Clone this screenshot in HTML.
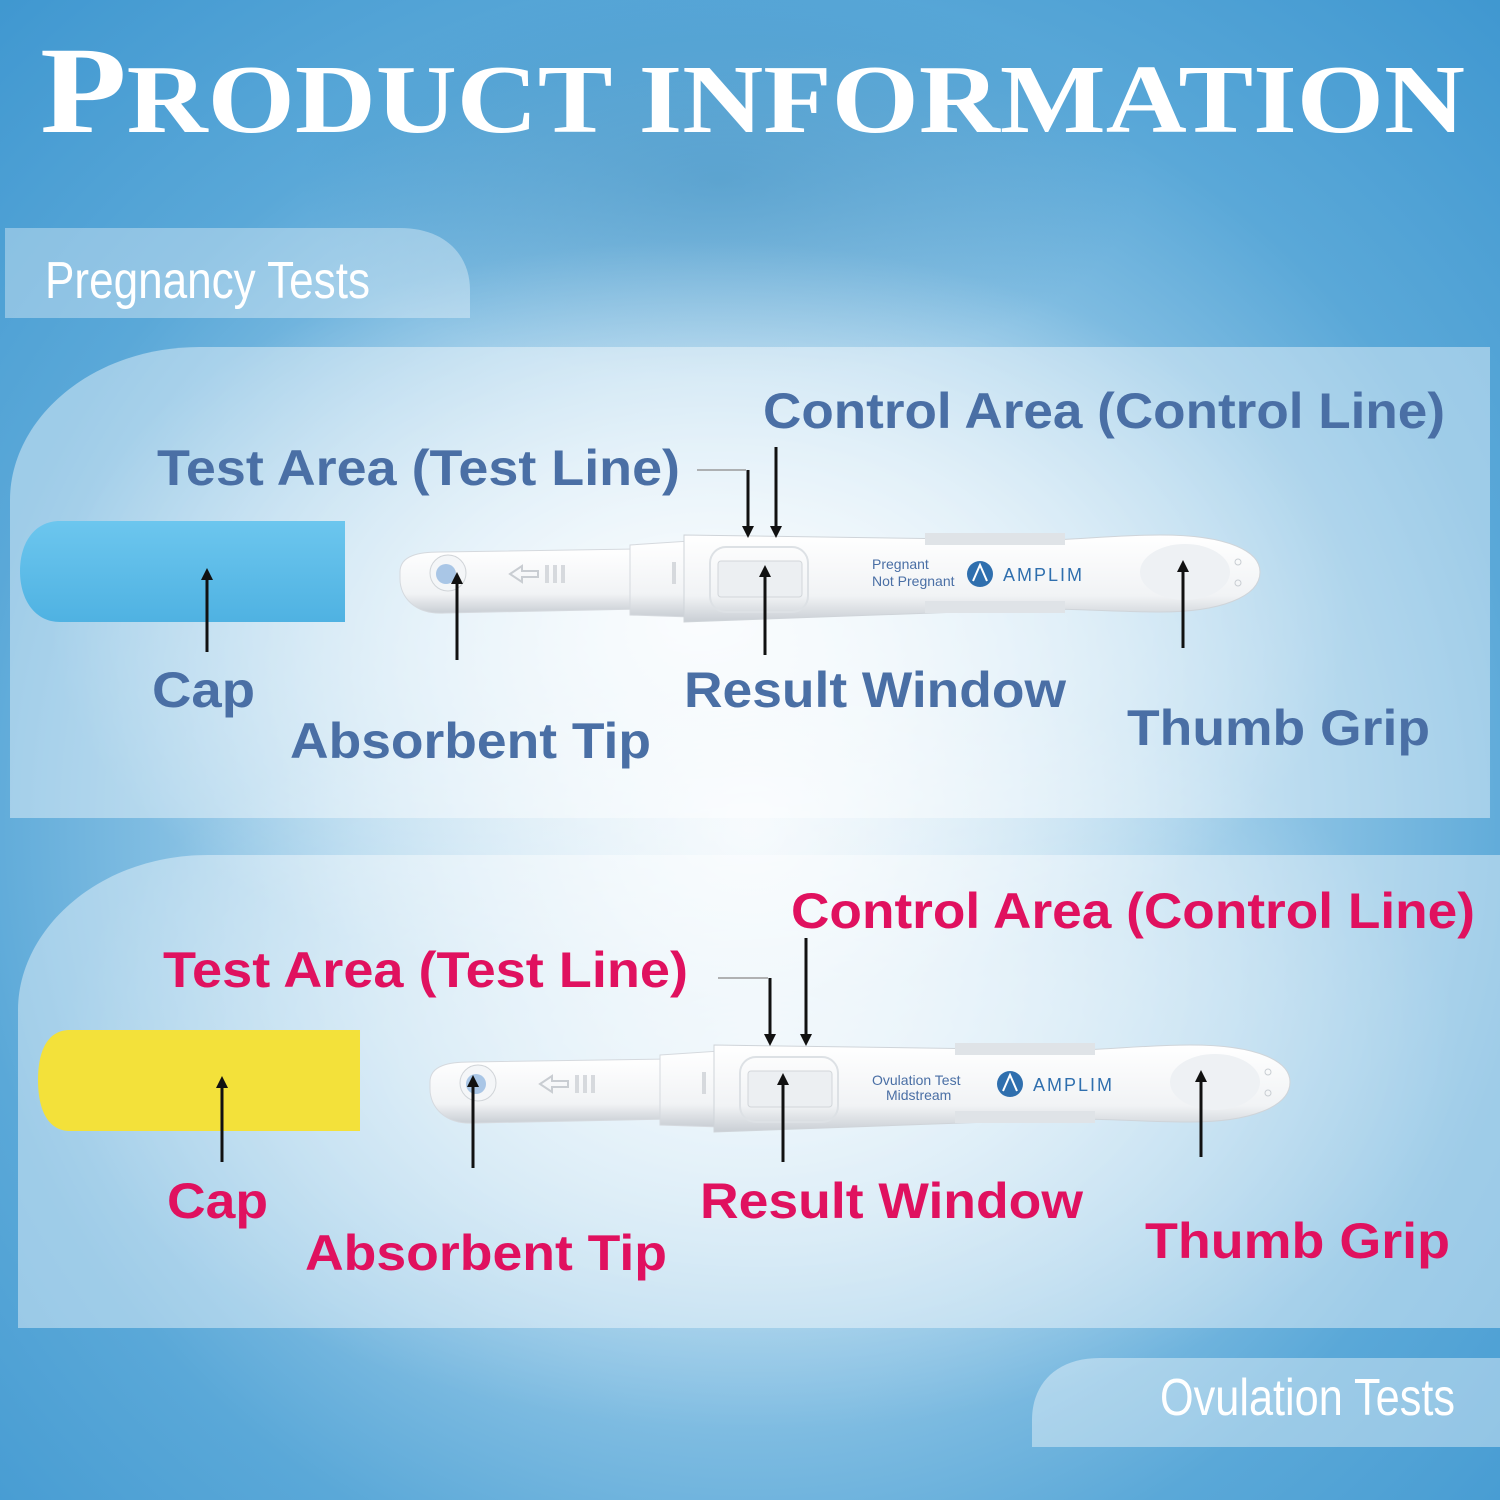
<!DOCTYPE html>
<html><head><meta charset="utf-8"><style>
html,body{margin:0;padding:0;width:1500px;height:1500px;overflow:hidden}
svg{display:block}
.b{font-family:"Liberation Sans",sans-serif;font-weight:bold}
</style></head><body>
<svg width="1500" height="1500" viewBox="0 0 1500 1500" xmlns="http://www.w3.org/2000/svg">
<defs>
<radialGradient id="bg" cx="0.5" cy="0.55" r="0.75">
<stop offset="0" stop-color="#eef6fb"/>
<stop offset="0.35" stop-color="#a9d3ec"/>
<stop offset="0.7" stop-color="#5aa8d8"/>
<stop offset="1" stop-color="#3f97d0"/>
</radialGradient>
<radialGradient id="glow" cx="0.5" cy="0.5" r="0.5">
<stop offset="0" stop-color="#ffffff" stop-opacity="0.85"/>
<stop offset="1" stop-color="#ffffff" stop-opacity="0"/>
</radialGradient>
<radialGradient id="dark" cx="0.5" cy="0.5" r="0.5">
<stop offset="0" stop-color="#2c7fb4" stop-opacity="0.35"/>
<stop offset="1" stop-color="#2c7fb4" stop-opacity="0"/>
</radialGradient>
<linearGradient id="capb" x1="0" y1="0" x2="0" y2="1">
<stop offset="0" stop-color="#6cc6ee"/><stop offset="1" stop-color="#4fb2e2"/>
</linearGradient>
<linearGradient id="dev" x1="0" y1="0" x2="0" y2="1">
<stop offset="0" stop-color="#ffffff"/><stop offset="0.7" stop-color="#f1f3f5"/><stop offset="1" stop-color="#c9ced4"/>
</linearGradient>
<g id="device">
<path d="M0,55 C0,38 20,35 40,35 L240,32 L240,92 L45,96 C15,98 0,80 0,62 Z" fill="url(#dev)" stroke="#d5d9de"/>
<circle cx="48" cy="56" r="18" fill="#f4f6f8" stroke="#d0d4d8"/>
<circle cx="46" cy="57" r="10" fill="#a9c6e6"/>
<path d="M110,57 l12,-8 v5 h16 v6 h-16 v5 z" fill="none" stroke="#c9cdd2" stroke-width="2"/>
<rect x="145" y="48" width="4" height="18" fill="#d6d9dd"/><rect x="153" y="48" width="4" height="18" fill="#d6d9dd"/><rect x="161" y="48" width="4" height="18" fill="#d6d9dd"/>
<path d="M230,28 L290,24 L290,100 L230,98 Z" fill="url(#dev)" stroke="#d5d9de"/>
<rect x="272" y="45" width="4" height="22" fill="#d6d9dd"/>
<path d="M284,18 L560,22 C640,28 700,18 760,18 C830,18 860,35 860,55 C860,80 820,95 760,95 C700,95 640,88 560,95 L284,105 Z" fill="url(#dev)" stroke="#cfd4d9"/>
<rect x="310" y="30" width="98" height="65" rx="16" fill="none" stroke="#dde1e5" stroke-width="2"/>
<rect x="318" y="44" width="84" height="36" rx="3" fill="#eceff2" stroke="#d2d6da"/>
<g fill="#dfe3e7"><rect x="525" y="16" width="140" height="12"/><rect x="525" y="84" width="140" height="12"/></g>
<ellipse cx="785" cy="55" rx="45" ry="28" fill="#eef1f4"/>
<circle cx="838" cy="45" r="3" fill="none" stroke="#c8cdd2"/><circle cx="838" cy="66" r="3" fill="none" stroke="#c8cdd2"/>
<circle cx="580" cy="57" r="13" fill="#2f6fae"/>
<path d="M573,64 L580,48 L587,64" fill="none" stroke="#fff" stroke-width="2"/>
<text x="603" y="64" font-family="Liberation Sans,sans-serif" font-size="18" fill="#2f6fae" letter-spacing="2">AMPLIM</text>
</g>
</defs>
<rect width="1500" height="1500" fill="url(#bg)"/>
<ellipse cx="720" cy="180" rx="420" ry="200" fill="url(#dark)"/>
<ellipse cx="700" cy="620" rx="650" ry="380" fill="url(#glow)"/>
<ellipse cx="760" cy="1050" rx="700" ry="380" fill="url(#glow)" opacity="0.7"/>

<text y="132" fill="#fff" font-family="Liberation Serif,serif" font-weight="bold" x="40" textLength="1425" lengthAdjust="spacingAndGlyphs"><tspan font-size="124">P</tspan><tspan font-size="98">RODUCT</tspan><tspan font-size="98"> INFORMATION</tspan></text>

<path d="M5,228 H400 C445,228 470,255 470,290 V318 H5 Z" fill="#ffffff" opacity="0.35"/>
<text x="45" y="298" fill="#fff" font-family="Liberation Sans,sans-serif" font-size="52" textLength="325" lengthAdjust="spacingAndGlyphs">Pregnancy  Tests</text>
<path d="M1500,1358 H1100 C1055,1358 1032,1385 1032,1420 V1447 H1500 Z" fill="#ffffff" opacity="0.4"/>
<text x="1160" y="1415" fill="#fff" font-family="Liberation Sans,sans-serif" font-size="52" textLength="295" lengthAdjust="spacingAndGlyphs">Ovulation Tests</text>

<path d="M10,818 V500 C10,420 90,347 200,347 H1490 V818 Z" fill="#ffffff" opacity="0.42"/>
<path d="M18,1328 V1010 C18,930 98,855 208,855 H1500 V1328 Z" fill="#ffffff" opacity="0.42"/>

<path d="M60,521 H345 V622 H60 C35,622 20,600 20,571 C20,542 35,521 60,521 Z" fill="url(#capb)"/>
<path d="M70,1030 H360 V1131 H70 C48,1131 38,1110 38,1080 C38,1050 48,1030 70,1030 Z" fill="#f3e13a"/>

<use href="#device" transform="translate(400,517)"/>
<use href="#device" transform="translate(430,1027)"/>
<text x="872" y="569" font-family="Liberation Sans,sans-serif" font-size="14" fill="#4a6fa5">Pregnant</text>
<text x="872" y="586" font-family="Liberation Sans,sans-serif" font-size="14" fill="#4a6fa5">Not Pregnant</text>
<text x="872" y="1085" font-family="Liberation Sans,sans-serif" font-size="14" fill="#4a6fa5">Ovulation Test</text>
<text x="886" y="1100" font-family="Liberation Sans,sans-serif" font-size="14" fill="#4a6fa5">Midstream</text>

<g stroke="#111" stroke-width="3" fill="#111">
<line x1="207" y1="652" x2="207" y2="578"/><path d="M201,580 L207,568 L213,580 Z" stroke="none"/>
<line x1="457" y1="660" x2="457" y2="582"/><path d="M451,584 L457,572 L463,584 Z" stroke="none"/>
<line x1="765" y1="655" x2="765" y2="575"/><path d="M759,577 L765,565 L771,577 Z" stroke="none"/>
<line x1="1183" y1="648" x2="1183" y2="570"/><path d="M1177,572 L1183,560 L1189,572 Z" stroke="none"/>
<line x1="748" y1="470" x2="748" y2="528"/><path d="M742,526 L748,538 L754,526 Z" stroke="none"/>
<line x1="776" y1="447" x2="776" y2="528"/><path d="M770,526 L776,538 L782,526 Z" stroke="none"/>
<line x1="222" y1="1162" x2="222" y2="1086"/><path d="M216,1088 L222,1076 L228,1088 Z" stroke="none"/>
<line x1="473" y1="1168" x2="473" y2="1085"/><path d="M467,1087 L473,1075 L479,1087 Z" stroke="none"/>
<line x1="783" y1="1162" x2="783" y2="1083"/><path d="M777,1085 L783,1073 L789,1085 Z" stroke="none"/>
<line x1="1201" y1="1157" x2="1201" y2="1080"/><path d="M1195,1082 L1201,1070 L1207,1082 Z" stroke="none"/>
<line x1="770" y1="978" x2="770" y2="1036"/><path d="M764,1034 L770,1046 L776,1034 Z" stroke="none"/>
<line x1="806" y1="938" x2="806" y2="1036"/><path d="M800,1034 L806,1046 L812,1034 Z" stroke="none"/>
</g>
<line x1="697" y1="470" x2="746" y2="470" stroke="#999" stroke-width="1.5"/>
<line x1="718" y1="978" x2="768" y2="978" stroke="#999" stroke-width="1.5"/>

<g class="b" font-size="50" fill="#4a6fa5">
<text x="763" y="428" textLength="682" lengthAdjust="spacingAndGlyphs">Control Area (Control Line)</text>
<text x="157" y="485" textLength="523" lengthAdjust="spacingAndGlyphs">Test Area (Test Line)</text>
<text x="152" y="707" textLength="103" lengthAdjust="spacingAndGlyphs">Cap</text>
<text x="290" y="758" textLength="361" lengthAdjust="spacingAndGlyphs">Absorbent Tip</text>
<text x="684" y="707" textLength="382" lengthAdjust="spacingAndGlyphs">Result Window</text>
<text x="1127" y="745" textLength="303" lengthAdjust="spacingAndGlyphs">Thumb Grip</text>
</g>
<g class="b" font-size="50" fill="#e0115f">
<text x="791" y="928" textLength="684" lengthAdjust="spacingAndGlyphs">Control Area (Control Line)</text>
<text x="163" y="987" textLength="525" lengthAdjust="spacingAndGlyphs">Test Area (Test Line)</text>
<text x="167" y="1218" textLength="101" lengthAdjust="spacingAndGlyphs">Cap</text>
<text x="305" y="1270" textLength="362" lengthAdjust="spacingAndGlyphs">Absorbent Tip</text>
<text x="700" y="1218" textLength="383" lengthAdjust="spacingAndGlyphs">Result Window</text>
<text x="1145" y="1258" textLength="305" lengthAdjust="spacingAndGlyphs">Thumb Grip</text>
</g>
</svg>
</body></html>
